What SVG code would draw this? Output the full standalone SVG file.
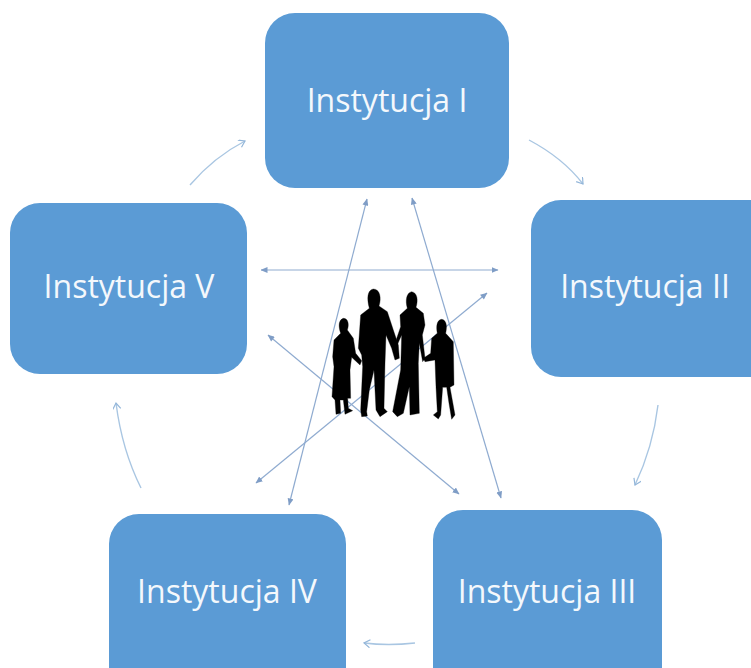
<svg xmlns="http://www.w3.org/2000/svg" width="751" height="668" viewBox="0 0 751 668">
<style>
.box{fill:#5b9bd5}
.lbl{font-family:"Open Sans","Noto Sans",sans-serif;font-size:32px;fill:#f4f8fc;text-anchor:middle}
.star{fill:none;stroke:#8fabd0;stroke-width:1.2;marker-end:url(#ah);marker-start:url(#as)}
.ring{fill:none;stroke:#a9c6e2;stroke-width:1.4;marker-end:url(#ar)}
.fig{fill:#060606;stroke:#060606;stroke-width:1;stroke-linejoin:round}
</style>
<defs>
<marker id="ah" markerWidth="8" markerHeight="8" refX="6.5" refY="3" orient="auto" markerUnits="userSpaceOnUse"><path d="M0 0L7 3L0 6Z" fill="#7f9dc6"/></marker>
<marker id="as" markerWidth="8" markerHeight="8" refX="0.5" refY="3" orient="auto" markerUnits="userSpaceOnUse"><path d="M7 0L0 3L7 6Z" fill="#7f9dc6"/></marker>
<marker id="ar" markerWidth="10" markerHeight="10" refX="7" refY="4" orient="auto" markerUnits="userSpaceOnUse"><path d="M1 0L7 4L1 8" fill="none" stroke="#93b6d9" stroke-width="1.2"/></marker>
<filter id="soft" x="-5%" y="-5%" width="110%" height="110%"><feGaussianBlur stdDeviation="0.6"/></filter>
</defs>
<rect width="751" height="668" fill="#fff"/>
<g id="connectors">
<path class="star" d="M367 199L289 505"/>
<path class="star" d="M412 198L501 498"/>
<path class="star" d="M261 270L498 270"/>
<path class="star" d="M487 293L256 483"/>
<path class="star" d="M268 335L459 494"/>
<path class="ring" d="M529 140Q563 158 583 184"/>
<path class="ring" d="M658 405Q653 447 635 485"/>
<path class="ring" d="M415 643Q388 646 364 643"/>
<path class="ring" d="M141 488Q122 450 116 403"/>
<path class="ring" d="M190 185Q214 157 245 141"/>
</g>
<g id="family" filter="url(#soft)" transform="translate(310 270) scale(.3333)">
<path class="fig" d="M100 145C115 145 118 165 112 180L130 205L137 250L155 272L150 285L125 262L120 300L122 385L113 385L115 415L128 422L105 433L100 390L90 390L92 430L78 433L75 390L66 380L72 290L68 260L72 210L92 190C85 170 85 150 100 145Z"/>
<path class="fig" d="M190 57C210 57 215 85 207 108L232 125L250 180L265 225L268 265L255 270L245 235L228 195L225 280L222 415L232 425L210 440L198 420L192 300L178 360L170 425L172 438L155 440L152 420L158 290L155 255L145 235L152 135L178 115C170 85 172 60 190 57Z"/>
<path class="fig" d="M305 65C322 68 325 90 318 112L340 130L345 165L337 195L345 265L338 275L328 220L325 280L328 430L300 435L298 350L280 430L262 440L248 425L272 300L275 195L255 240L250 235L272 170L270 135L292 115C285 90 290 68 305 65Z"/>
<path class="fig" d="M395 148C410 150 412 170 407 190L430 215L432 345L420 352L435 435L425 448L417 400L410 352L398 352L392 435L385 447L370 435L382 425L378 350L375 270L345 275L340 265L362 250L365 205L382 190C378 170 380 150 395 148Z"/>
</g>
<g id="node-1"><rect class="box" x="265" y="13" width="244" height="175" rx="30"/><text class="lbl" x="387" y="112">Instytucja I</text></g>
<g id="node-2"><rect class="box" x="531" y="200" width="260" height="177" rx="30"/><text class="lbl" x="645" y="298">Instytucja II</text></g>
<g id="node-3"><rect class="box" x="433" y="510" width="229" height="190" rx="30"/><text class="lbl" x="547" y="603">Instytucja III</text></g>
<g id="node-4"><rect class="box" x="109" y="514" width="237" height="190" rx="30"/><text class="lbl" x="227" y="603">Instytucja IV</text></g>
<g id="node-5"><rect class="box" x="10" y="203" width="237" height="171" rx="30"/><text class="lbl" x="129" y="298">Instytucja V</text></g>
</svg>
